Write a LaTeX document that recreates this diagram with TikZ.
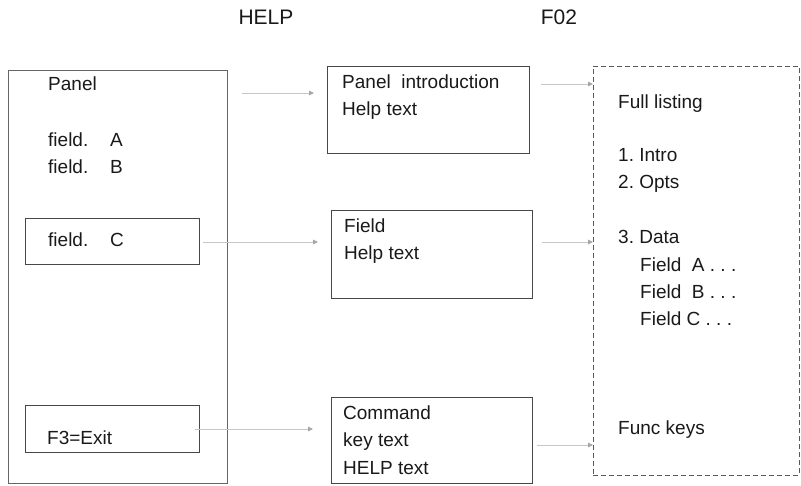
\documentclass[tikz,border=0pt]{standalone}
\usepackage{fontspec}
\setmainfont{Liberation Sans}
\usetikzlibrary{arrows.meta}
\frenchspacing
\begin{document}
\begin{tikzpicture}[x=1pt,y=-1pt,
  box/.style={draw=black!72, line width=0.8pt, inner sep=0pt, anchor=north west},
  dbox/.style={draw=black!65, line width=0.8pt, dash pattern=on 5pt off 3pt, inner sep=0pt, anchor=north west},
  txt/.style={anchor=west, inner sep=0pt, text height=13.6pt, text depth=0pt, font=\fontsize{19}{27}\selectfont\frenchspacing, text=black!90},
  hdr/.style={inner sep=0pt, text height=15.2pt, text depth=0pt, font=\fontsize{21}{25}\selectfont, text=black!90},
  conn/.style={draw=black!22, line width=0.9pt, -{Triangle[length=5pt,width=4.5pt,color=black!35]}}]
\useasboundingbox (0,0) rectangle (801,485);

% headers
\node[hdr] (hhelp) at (266,17) {HELP};
\node[hdr] (hf02) at (559,17) {F02};

% left panel
\node[box, draw=black!60, minimum width=219pt, minimum height=413pt] (panel) at (8,70) {};
\node[box, minimum width=174pt, minimum height=46pt] (fcbox) at (25,218) {};
\node[box, minimum width=174pt, minimum height=47pt] (f3box) at (25,405) {};
\node[txt] (tpanel) at (48,84) {Panel};
\node[txt] (tfa) at (48,140) {field.};
\node[txt] (tfaA) at (110,140) {A};
\node[txt] (tfb) at (48,167) {field.};
\node[txt] (tfbB) at (110,167) {B};
\node[txt] (tfc) at (48,240) {field.};
\node[txt] (tfcC) at (110,240) {C};
\node[txt] (tf3) at (47,438) {F3=Exit};

% middle boxes
\node[box, minimum width=202pt, minimum height=87pt] (b1) at (327,66) {};
\node[box, minimum width=201pt, minimum height=88pt] (b2) at (331,210) {};
\node[box, minimum width=201pt, minimum height=86pt] (b3) at (331,397) {};
\node[txt] (b1t1) at (342,82) {Panel\ \ introduction};
\node[txt] (b1t2) at (342,109) {Help text};
\node[txt] (b2t1) at (344,226) {Field};
\node[txt] (b2t2) at (344,253) {Help text};
\node[txt] (b3t1) at (343,413) {Command};
\node[txt] (b3t2) at (343,440) {key text};
\node[txt] (b3t3) at (343,468) {HELP text};

% dashed listing box
\node[dbox, minimum width=206pt, minimum height=409pt] (full) at (593,66) {};
\node[txt] (l1) at (618,102) {Full listing};
\node[txt] (l2) at (618,155) {1. Intro};
\node[txt] (l3) at (618,182) {2. Opts};
\node[txt] (l4) at (618,237) {3. Data};
\node[txt] (l5) at (640,265) {Field\ \ A . . .};
\node[txt] (l6) at (640,292) {Field\ \ B . . .};
\node[txt] (l7) at (640,319) {Field C . . .};
\node[txt] (l8) at (618,428) {Func keys};

% connectors
\coordinate (s1) at (242,93);
\coordinate (s2) at (203,242);
\coordinate (s3) at (195,429);
\coordinate (r1) at (541,84);
\coordinate (r2) at (542,242);
\coordinate (r3) at (537,445);
\draw[conn, shorten >=13pt] (s1) -- (s1 -| b1.west);
\draw[conn, shorten >=13pt] (s2) -- (s2 -| b2.west);
\draw[conn, shorten >=18pt] (s3) -- (s3 -| b3.west);
\draw[conn] (r1) -- (r1 -| full.west);
\draw[conn] (r2) -- (r2 -| full.west);
\draw[conn] (r3) -- (r3 -| full.west);
\end{tikzpicture}
\end{document}
